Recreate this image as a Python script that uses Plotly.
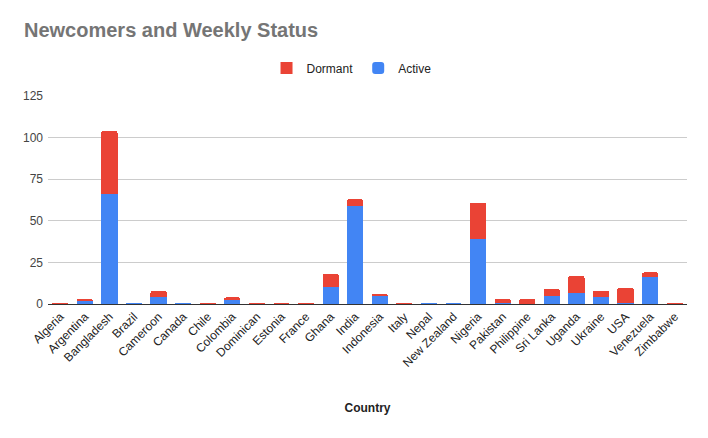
import plotly.graph_objects as go

countries = [
    "Algeria", "Argentina", "Bangladesh", "Brazil", "Cameroon", "Canada",
    "Chile", "Colombia", "Dominican", "Estonia", "France", "Ghana", "India",
    "Indonesia", "Italy", "Nepal", "New Zealand", "Nigeria", "Pakistan",
    "Philippine", "Sri Lanka", "Uganda", "Ukraine", "USA", "Venezuela",
    "Zimbabwe",
]
active = [0, 2, 66, 0.6, 4, 0.6, 0, 3, 0, 0, 0, 10, 59,
          5, 0, 0.6, 0.6, 39, 0.5, 0, 5, 6.6, 4, 0.5, 16, 0]
dormant = [0.6, 1, 38, 0, 4, 0, 0.6, 1, 0.6, 0.6, 0.6, 8, 4,
           1, 0.6, 0, 0, 22, 2.5, 3, 4, 10.2, 4, 9.3, 3, 0.6]

font = dict(family="Liberation Sans, Arial, sans-serif", size=12, color="#222222")

fig = go.Figure()
fig.add_trace(go.Bar(
    x=countries, y=active, name="Active",
    marker=dict(color="#4285f4", line=dict(width=0), cornerradius=2),
))
fig.add_trace(go.Bar(
    x=countries, y=dormant, name="Dormant",
    marker=dict(color="#ea4335", line=dict(width=0)),
))

# the page has an 8px body margin, so the figure is a little smaller
fig.update_layout(
    width=700, height=430,
    barmode="stack", bargap=0.34,
    paper_bgcolor="white", plot_bgcolor="white",
    font=font,
    margin=dict(l=40, r=21, t=88, b=134, autoexpand=False),
    title=dict(
        text="<b>Newcomers and Weekly Status</b>",
        x=16 / 700, xref="container", xanchor="left",
        y=0.949, yanchor="middle",
        font=dict(family="Liberation Sans, Arial, sans-serif", size=20, color="#757575"),
    ),
    legend=dict(
        orientation="h", x=0.475, xanchor="center",
        y=1.135, yanchor="middle", traceorder="reversed",
        font=dict(size=12, color="#222222"), itemwidth=30,
    ),
    xaxis=dict(
        tickangle=-45, showgrid=False, showline=True, linecolor="#333333",
        linewidth=1, ticks="", automargin=False,
        title=dict(text="<b>Country</b>", font=dict(size=12, color="#222222"), standoff=34),
    ),
    yaxis=dict(
        range=[0, 125], tickvals=[0, 25, 50, 75, 100, 125],
        gridcolor="#cccccc", zeroline=False, ticks="", automargin=False,
        tickfont=dict(size=12, color="#444444"), ticklabelstandoff=4,
    ),
)

fig.write_html("out.html")
